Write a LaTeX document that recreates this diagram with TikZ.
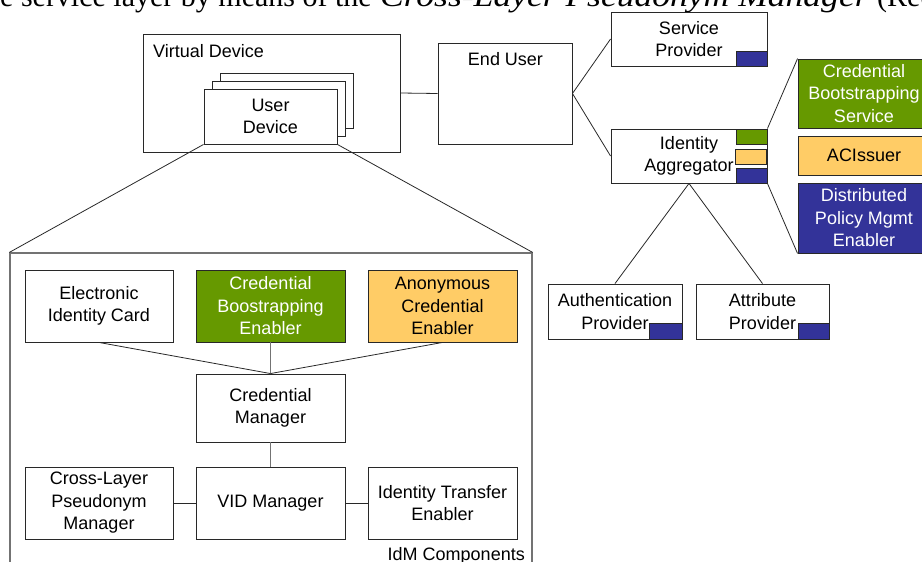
\documentclass[tikz,border=0pt]{standalone}
\usepackage{fontspec}
\setmainfont{Liberation Sans}
\newfontfamily\docserif{Liberation Serif}
\definecolor{cgreen}{RGB}{102,153,0}
\definecolor{corange}{RGB}{255,204,102}
\definecolor{cblue}{RGB}{51,51,153}
\definecolor{cline}{RGB}{40,40,40}
\begin{document}
\begin{tikzpicture}[x=1pt,y=-1pt,
  txt/.style={font=\fontsize{18}{22}\selectfont, align=center, inner sep=0pt},
  box/.style={draw=cline, line width=0.9pt, fill=white, inner sep=0pt, align=center,
              font=\fontsize{18}{22.5}\selectfont},
  gbox/.style={box, fill=cgreen, text=white},
  obox/.style={box, fill=corange},
  bbox/.style={box, fill=cblue, text=white},
  tag/.style={draw=cline, line width=0.8pt, inner sep=0pt, minimum width=31pt},
  conn/.style={draw=cline, line width=0.8pt},
  top/.style={font=\docserif\fontsize{30}{30}\selectfont, anchor=base west, inner sep=0pt}
]
\useasboundingbox (0,0) rectangle (922,562);
% cropped text line at the top
\begin{scope}
\clip (0,0) rectangle (922,562);
\node[top] (topa) at (0,6.5) {e service layer by means of the};
\node[top, xscale=1.185, transform shape] (topb) at (380,6.5) {\itshape Cross-Layer Pseudonym Manager};
\node[top] (topc) at (877,6.5) {(Requ};
\end{scope}

% Virtual device
\node[box, minimum width=257pt, minimum height=118pt] (vd) at (271.5,93) {};
\node[txt, anchor=base west] (vdl) at (153,57) {Virtual Device};
\node[box, minimum width=133pt, minimum height=55pt] (ud3) at (286.5,100.5) {};
\node[box, minimum width=133pt, minimum height=55pt] (ud2) at (278.5,108.5) {};
\node[box, minimum width=133pt, minimum height=55pt] (ud) at (270.5,116.5) {User\\Device};

% End user
\node[box, minimum width=134pt, minimum height=101pt] (eu) at (505,93.5) {};
\node[txt, anchor=base] (eul) at (505.5,65) {End User};

% Service provider
\node[box, minimum width=156pt, minimum height=54pt] (sp) at (689,39) {Service\\Provider};
\node[tag, fill=cblue, minimum height=15pt, anchor=south east] (spt) at (sp.south east) {};

% Identity aggregator
\node[box, minimum width=156pt, minimum height=54pt] (ia) at (689,156) {Identity\\Aggregator};
\node[tag, fill=cgreen, minimum height=15pt, anchor=north east] (iag) at (ia.north east) {};
\node[tag, fill=corange, minimum height=15pt, anchor=north east] (iao) at (767,149) {};
\node[tag, fill=cblue, minimum height=15pt, anchor=south east] (iab) at (ia.south east) {};

% enablers on the right
\node[gbox, minimum width=132pt, minimum height=69pt] (cbs) at (864,93.5) {Credential\\Bootstrapping\\Service};
\node[obox, minimum width=132pt, minimum height=39pt] (aci) at (864,155.5) {ACIssuer};
\node[bbox, minimum width=132pt, minimum height=70pt] (dpm) at (864,218) {Distributed\\Policy Mgmt\\Enabler};

% providers
\node[box, minimum width=134pt, minimum height=55pt] (aup) at (615,311.5) {Authentication\\Provider};
\node[tag, fill=cblue, minimum width=33pt, minimum height=16pt, anchor=south east] (aupt) at (aup.south east) {};
\node[box, minimum width=133pt, minimum height=55pt] (atp) at (762.5,311.5) {Attribute\\Provider};
\node[tag, fill=cblue, minimum width=31pt, minimum height=16pt, anchor=south east] (atpt) at (atp.south east) {};

% IdM components
\node[draw=black!55, line width=1.2pt, minimum width=522pt, minimum height=347pt, inner sep=0pt] (idm) at (271,426.5) {};
\node[txt, anchor=base east] (idml) at (525,560) {IdM Components};

\node[box, minimum width=148pt, minimum height=72pt] (eic) at (99,306) {Electronic\\Identity Card};
\node[gbox, minimum width=149pt, minimum height=72pt] (cbe) at (270.5,306) {Credential\\Boostrapping\\Enabler};
\node[obox, minimum width=149pt, minimum height=72pt] (ace) at (442.5,306) {Anonymous\\Credential\\Enabler};
\node[box, minimum width=149pt, minimum height=68pt] (cm) at (270.5,408) {Credential\\Manager};
\node[box, minimum width=148pt, minimum height=72pt] (cl) at (99,503) {Cross-Layer\\Pseudonym\\Manager};
\node[box, minimum width=149pt, minimum height=72pt] (vid) at (270.5,503) {VID Manager};
\node[box, minimum width=149pt, minimum height=72pt] (ite) at (442.5,503) {Identity Transfer\\Enabler};

% connectors
\draw[conn] (vd.east) -- (eu.west);
\draw[conn] (eu.east) -- (sp.west);
\draw[conn] (eu.east) -- (ia.west);
\draw[conn] (ia.north east) -- (cbs.north west);
\draw[conn] (ia.south east) -- (dpm.south west);
\draw[conn] (ia.south) -- (aup.north);
\draw[conn] (ia.south) -- (atp.north);
\draw[conn] (ud.south west) -- (idm.north west);
\draw[conn] (ud.south east) -- (idm.north east);
\draw[conn] (eic.south) -- (cm.north);
\draw[conn, draw=black!55, line width=1.1pt] (cbe.south) -- (cm.north);
\draw[conn] (ace.south) -- (cm.north);
\draw[conn, draw=black!55, line width=1.1pt] (cm.south) -- (vid.north);
\draw[conn] (cl.east) -- (vid.west);
\draw[conn] (vid.east) -- (ite.west);
\end{tikzpicture}
\end{document}
